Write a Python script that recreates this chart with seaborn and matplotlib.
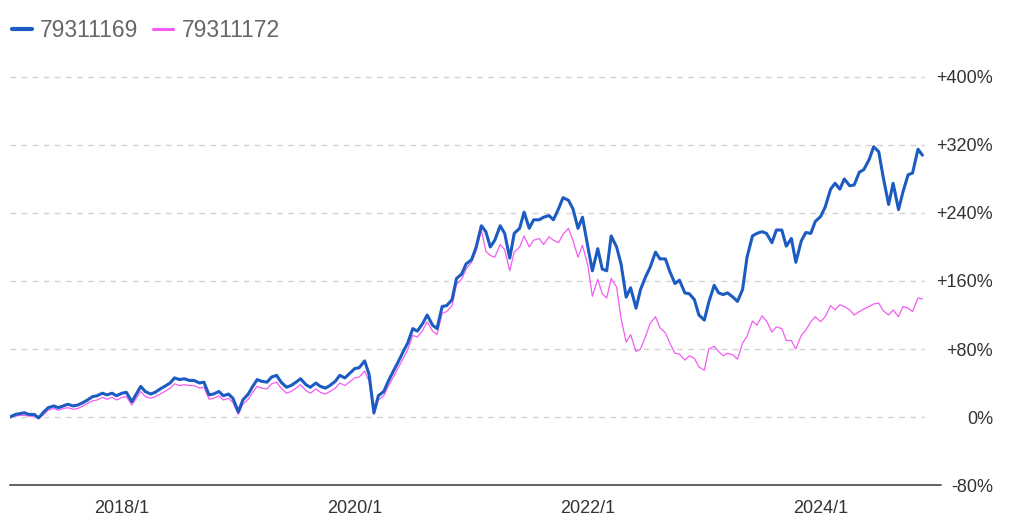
import numpy as np
import pandas as pd
import matplotlib
matplotlib.use('Agg')
import matplotlib.pyplot as plt
from matplotlib.lines import Line2D
import seaborn as sns

# ---- data (semi-monthly readings, % change) ----
dates = pd.date_range('2017-01-15', periods=189, freq='SMS')
series_names = ['79311169', '79311172']
series_colors = ['#1c5cc2', '#f25cf2']

blue_values = [0, 3, 4, 5, 3, 3, -1, 6, 11, 13,
               11, 13, 15, 13, 14, 17, 20, 24, 25, 28,
               26, 28, 25, 28, 29, 18, 27, 36, 30, 27,
               29, 33, 36, 40, 46, 44, 45, 43, 43, 40,
               41, 26, 27, 30, 25, 27, 22, 6, 20, 27,
               36, 44, 42, 41, 47, 49, 41, 35, 37, 41,
               45, 38, 35, 40, 36, 34, 37, 42, 49, 46,
               51, 57, 58, 66, 50, 5, 25, 30, 42, 54,
               64, 77, 87, 104, 101, 110, 120, 108, 104, 130,
               131, 138, 163, 168, 180, 185, 199, 225, 218, 200,
               208, 225, 216, 187, 216, 222, 241, 222, 232, 232,
               235, 237, 232, 245, 258, 255, 245, 222, 235, 200,
               172, 198, 174, 172, 213, 200, 180, 141, 152, 128,
               150, 165, 176, 194, 186, 186, 171, 157, 161, 146,
               145, 138, 120, 114, 135, 155, 146, 144, 146, 141,
               136, 150, 188, 213, 216, 218, 216, 205, 220, 220,
               201, 210, 182, 207, 217, 216, 230, 236, 247, 268,
               275, 268, 280, 272, 273, 288, 291, 303, 318, 312,
               282, 250, 275, 244, 265, 285, 287, 315, 308]

pink_values = [0, 1, 2, 2, 1, 1, -2, 3, 8, 10,
               8, 10, 11, 9, 10, 13, 16, 19, 20, 23,
               21, 23, 20, 23, 24, 14, 22, 30, 24, 22,
               24, 27, 30, 34, 39, 37, 38, 37, 37, 34,
               35, 21, 22, 25, 20, 22, 17, 3, 15, 21,
               29, 36, 34, 33, 39, 41, 34, 28, 30, 34,
               38, 31, 28, 33, 29, 27, 30, 34, 40, 37,
               41, 46, 47, 54, 42, 3, 20, 25, 36, 47,
               57, 69, 79, 96, 94, 102, 112, 101, 97, 122,
               124, 131, 156, 162, 174, 182, 195, 220, 195, 190,
               188, 203, 197, 172, 194, 200, 213, 200, 208, 210,
               203, 212, 208, 205, 215, 222, 208, 188, 202, 178,
               142, 162, 145, 140, 163, 153, 116, 88, 97, 77,
               80, 95, 110, 118, 105, 99, 87, 75, 74, 67,
               72, 69, 59, 55, 80, 83, 77, 72, 75, 73,
               68, 87, 95, 113, 108, 119, 113, 100, 106, 104,
               90, 90, 80, 96, 102, 112, 118, 112, 118, 131,
               126, 132, 130, 126, 120, 124, 127, 130, 133, 134,
               125, 120, 126, 118, 130, 128, 124, 140, 139]

y_ticks = [-80, 0, 80, 160, 240, 320, 400]
y_tick_labels = ['-80%', '0%', '+80%', '+160%', '+240%', '+320%', '+400%']
x_ticks = ['2018-01-01', '2020-01-01', '2022-01-01', '2024-01-01']
x_tick_labels = ['2018/1', '2020/1', '2022/1', '2024/1']

# ---- style ----
sns.set_style('white')
plt.rcParams['font.family'] = ['Liberation Sans', 'DejaVu Sans']

df = pd.DataFrame({
    'date': list(dates) + list(dates),
    'value': blue_values + pink_values,
    'fund': [series_names[0]] * len(dates) + [series_names[1]] * len(dates),
})

W, H = 1024, 524
fig = plt.figure(figsize=(W / 100, H / 100), dpi=100)
ax = fig.add_axes([10 / W, (H - 485) / H, 915 / W, (485 - 68.5) / H])

sns.lineplot(data=df, x='date', y='value', hue='fund', hue_order=series_names,
             palette=series_colors, ax=ax, legend=False, estimator=None)
lines = ax.get_lines()
lines[0].set_linewidth(2.2)
lines[0].set_zorder(3)
lines[1].set_linewidth(0.9)
lines[1].set_zorder(2)

ax.set_ylim(-80, 410)
ax.set_xlim(pd.Timestamp('2017-01-15'), pd.Timestamp('2024-11-23'))

ax.yaxis.grid(True, linestyle=(0, (4, 4)), color='#d2d2d2', linewidth=1.0)
ax.xaxis.grid(False)
for s in ax.spines.values():
    s.set_visible(False)
ax.plot([0, 1.017], [0, 0], transform=ax.transAxes, clip_on=False,
        color='#555555', lw=1.3, zorder=4)

ax.yaxis.tick_right()
ax.set_yticks(y_ticks, y_tick_labels)
ax.tick_params(axis='y', length=0, pad=49, labelsize=13, labelcolor='#333333')
for lbl in ax.get_yticklabels():
    lbl.set_horizontalalignment('right')

ax.set_xticks(pd.to_datetime(x_ticks), x_tick_labels)
ax.tick_params(axis='x', length=0, pad=11, labelsize=13, labelcolor='#333333')
ax.set_xlabel('')
ax.set_ylabel('')

handles = [Line2D([], [], color=series_colors[0], lw=3.0),
           Line2D([], [], color=series_colors[1], lw=2.2)]
fig.legend(handles, series_names, loc='upper left', bbox_to_anchor=(0.003, 0.982),
           borderaxespad=0, ncol=2, frameon=False, fontsize=16.5, handlelength=0.87,
           handletextpad=0.35, columnspacing=0.65, labelcolor='#666666')

fig.savefig('out.png', dpi=100)
